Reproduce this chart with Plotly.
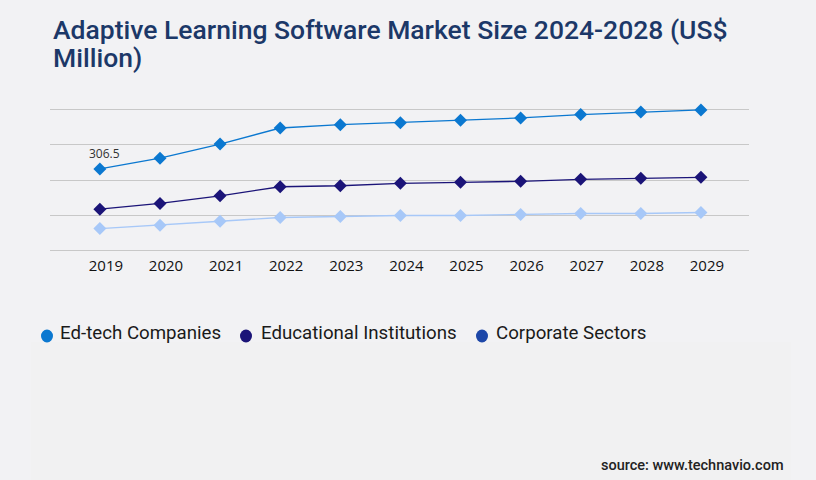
import plotly.graph_objects as go

# data
years = ["2019", "2020", "2021", "2022", "2023", "2024", "2025", "2026", "2027", "2028", "2029"]
edtech = [306.5, 347.1, 400.1, 460.7, 473.2, 480.8, 489.5, 498.6, 511.1, 521.3, 528.9]
education = [155.2, 176.8, 205.6, 239.6, 243.4, 252.5, 256.3, 260.1, 267.6, 271.4, 275.2]
corporate = [82.1, 94.6, 109.8, 123.8, 127.6, 131.4, 131.4, 135.1, 138.9, 138.9, 142.7]
series_names = ["Ed-tech Companies", "Educational Institutions", "Corporate Sectors"]
title_lines = ["Adaptive Learning Software Market Size 2024-2028 (US$", "Million)"]

line_colors = ["#0b78d0", "#1b1478", "#a7c8f8"]
legend_colors = ["#0b78d0", "#1b1478", "#1d47a8"]

# plot box in pixels (for placing the free text)
L, R, T, B = 50, 67, 108, 228
W, H = 816 - L - R, 480 - T - B


def px(x):
    return (x - L) / W


def py(y):
    return (480 - B - y) / H


fig = go.Figure()

for name, vals, col in zip(series_names, [edtech, education, corporate], line_colors):
    fig.add_trace(go.Scatter(x=years, y=vals, mode="lines+markers", name=name,
                             line=dict(color=col, width=1.3),
                             marker=dict(symbol="diamond", size=10, color=col),
                             showlegend=False, cliponaxis=False,
                             hoverinfo="x+y"))

fig.add_annotation(x=years.index("2019"), y=edtech[0], text=str(edtech[0]),
                   showarrow=False, yshift=15, xshift=5,
                   font=dict(family="Open Sans", size=12, color="#333333"))

# title, two lines
for i, line in enumerate(title_lines):
    fig.add_annotation(xref="paper", yref="paper", x=px(51), y=py(29.5 + 28 * i),
                       xanchor="left", yanchor="middle", showarrow=False, text=line,
                       font=dict(family="Roboto", size=26.5, color="#1c3868", weight=500))

# legend drawn by hand: round dot then label
legend_dot_x = [47, 246, 482]
legend_text_x = [58, 259, 494]
for name, col, dx, tx in zip(series_names, legend_colors, legend_dot_x, legend_text_x):
    fig.add_shape(type="circle", xref="paper", yref="paper", xsizemode="pixel", ysizemode="pixel",
                  xanchor=px(dx), yanchor=py(336), x0=-6, x1=6, y0=-6.5, y1=6.5,
                  fillcolor=col, line=dict(width=0))
    fig.add_annotation(xref="paper", yref="paper", x=px(tx), y=py(333), xanchor="left",
                       yanchor="middle", showarrow=False, text=name,
                       font=dict(family="Roboto", size=18.7, color="#1a1a1a"))

# source note
fig.add_annotation(xref="paper", yref="paper", x=px(786), y=py(465),
                   xanchor="right", yanchor="middle",
                   text="source: www.technavio.com", showarrow=False,
                   font=dict(family="Roboto", size=14.5, color="#222222", weight=500))

fig.add_shape(type="rect", xref="paper", yref="paper", x0=px(31), x1=px(791),
              y0=py(490), y1=py(342),
              fillcolor="#f1f1f2", line=dict(width=0), layer="below")

fig.update_layout(
    width=816, height=480,
    paper_bgcolor="#f2f2f4", plot_bgcolor="#f2f2f4",
    margin=dict(l=L, r=R, t=T, b=B),
    xaxis=dict(type="category", range=[-0.83, 10.8], showgrid=False, showline=False,
               ticks="", ticklabelstandoff=3, ticklabelshift=6,
               tickfont=dict(family="Open Sans", size=15, color="#111111")),
    yaxis=dict(range=[-6, 536], tick0=0, dtick=132.5, showticklabels=False,
               showgrid=True, gridcolor="#c8c8c8", gridwidth=1, zeroline=False),
    showlegend=False,
)

fig.write_html("out.html", config={"displayModeBar": False},
               post_script="document.body.style.margin='0';")
